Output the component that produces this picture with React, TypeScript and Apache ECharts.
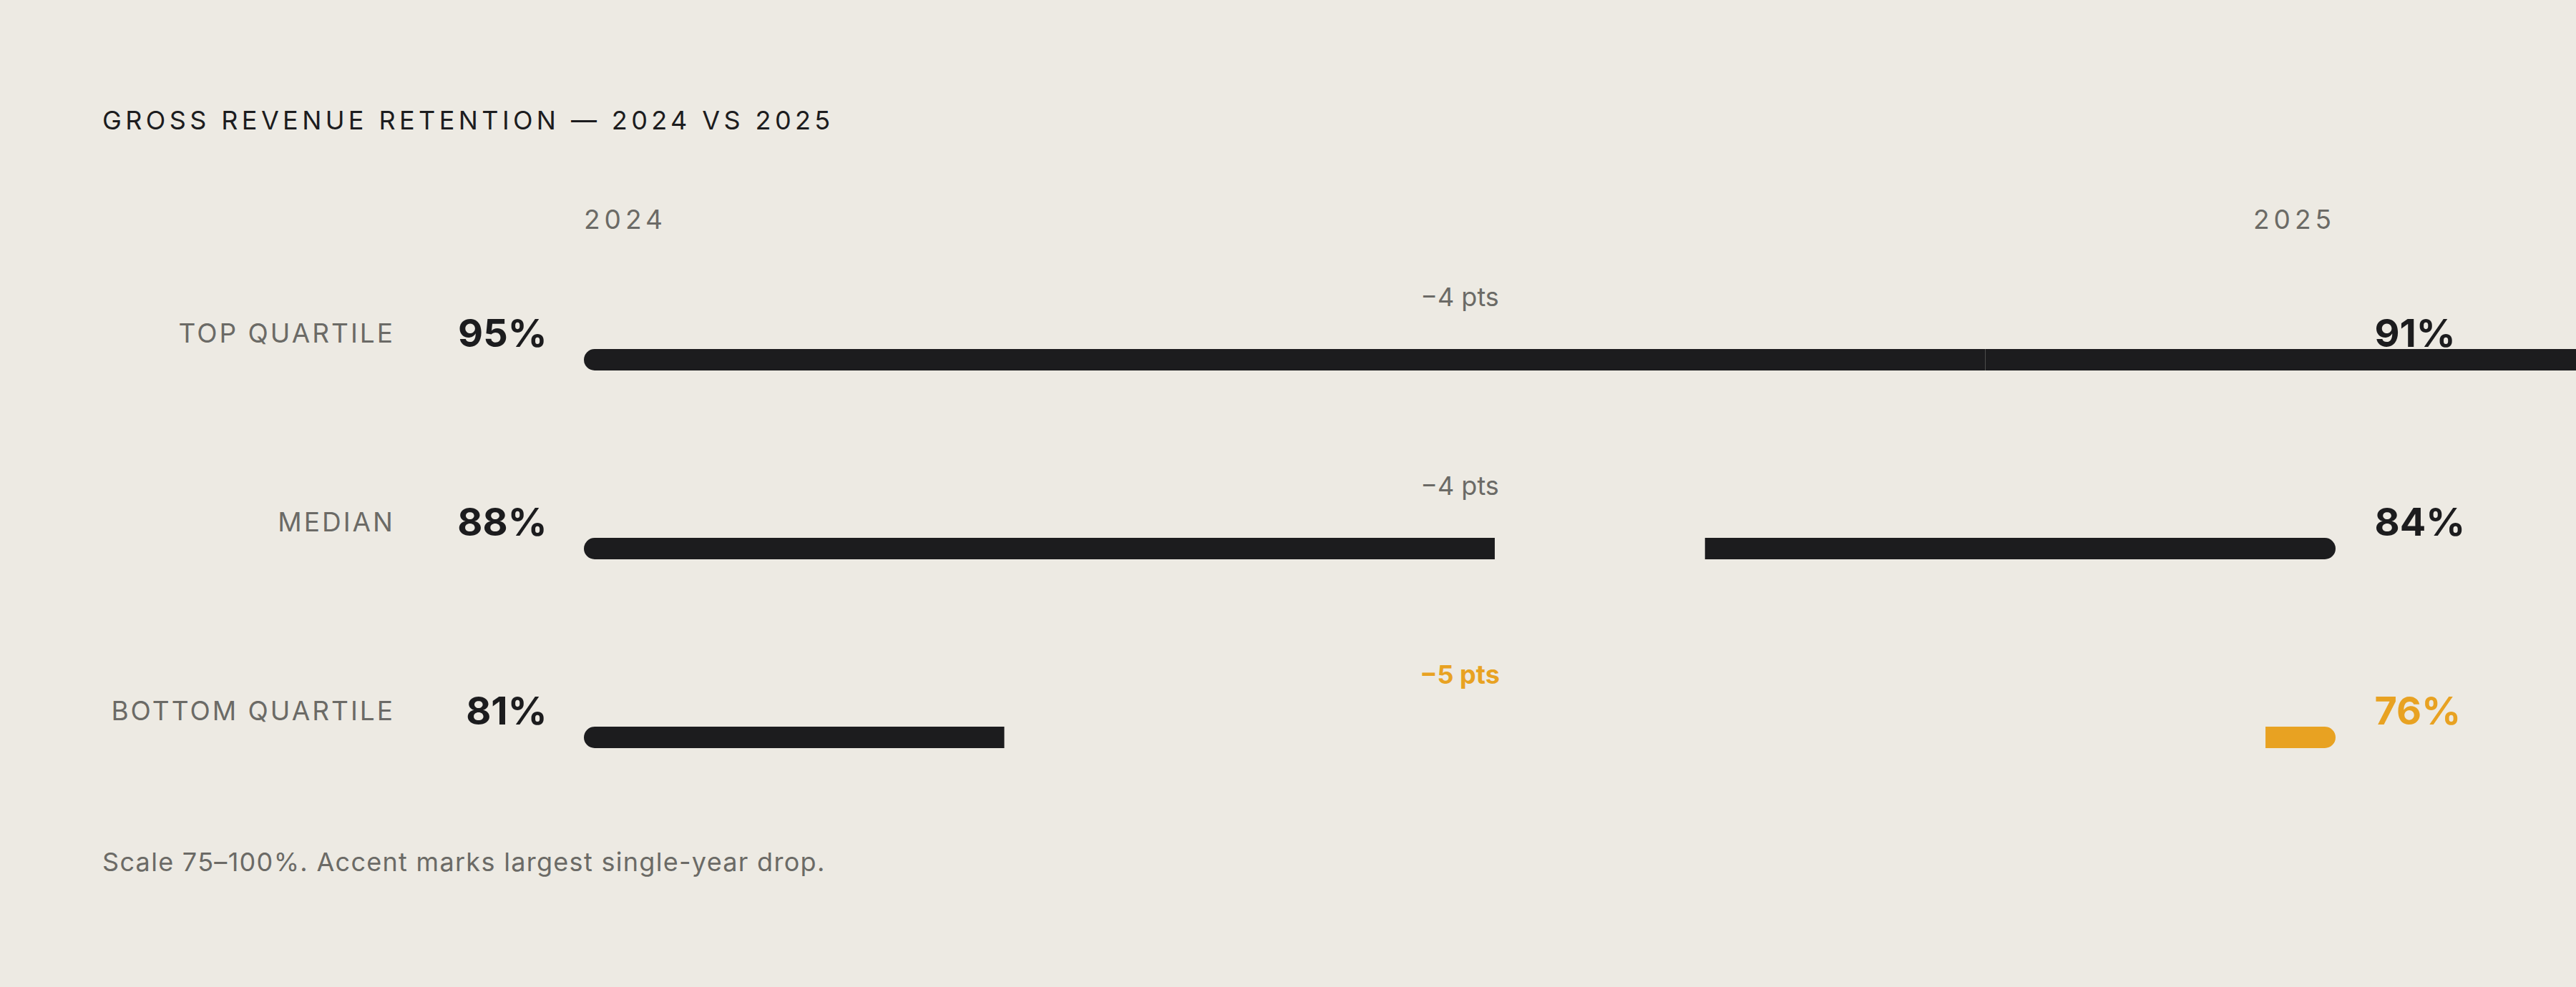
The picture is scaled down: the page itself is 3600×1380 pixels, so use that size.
import { useEffect, useRef } from 'react';
import * as echarts from 'echarts';

// data
const categories = ['TOP QUARTILE', 'MEDIAN', 'BOTTOM QUARTILE'];
const values2024 = [95, 88, 81];
const values2025 = [91, 84, 76];
const yearLabels = ['2024', '2025'];
const scaleMin = 75;
const scaleMax = 100;

const TITLE = 'GROSS REVENUE RETENTION \u2014 2024 VS 2025';
const NOTE = 'Scale 75\u2013100%. Accent marks largest single-year drop.';

const INK = '#1c1c1e';
const MUTED = '#6b6a66';
const ACCENT = '#e8a222';
const PAPER = '#edeae3';
const FONT = "Inter, 'Noto Sans', sans-serif";

const span = scaleMax - scaleMin;
const leftLen = values2024.map((v) => v - scaleMin);
const rightLen = values2025.map((v) => v - scaleMin);
// the 2025 bar follows the 2024 bar when they don't fit in the track
const gapLen = leftLen.map((l, i) => Math.max(0, span - l - rightLen[i]));
const drops = values2024.map((v, i) => v - values2025[i]);
const accentIdx = drops.indexOf(Math.max(...drops));

// echarts has no letter-spacing, so set it on the svg text nodes
const spacing = (text: string | null) => {
    if (text === TITLE) return 5.4;
    if (text === NOTE) return 1.3;
    if (text && yearLabels.includes(text)) return 6;
    if (text && categories.includes(text)) return 3;
    return 0;
};

export default function App() {
    const chartRef = useRef<HTMLDivElement>(null);

    useEffect(() => {
        const el = chartRef.current!;
        const myChart = echarts.init(el, null, { renderer: 'svg' });

        const applySpacing = () => {
            el.querySelectorAll('text').forEach((t) => {
                const s = spacing(t.textContent);
                if (s) t.style.letterSpacing = s + 'px';
            });
        };

        const labelPoint = { color: 'transparent', opacity: 1 };

        myChart.setOption({
            animation: false,
            backgroundColor: PAPER,
            textStyle: { fontFamily: FONT },
            title: [
                {
                    text: TITLE,
                    left: 143,
                    top: 150,
                    padding: 0,
                    textStyle: { fontFamily: FONT, fontSize: 36, fontWeight: 400, color: INK },
                },
                {
                    text: NOTE,
                    left: 143,
                    top: 1187,
                    padding: 0,
                    textStyle: { fontFamily: FONT, fontSize: 36, fontWeight: 400, color: MUTED },
                },
            ],
            grid: { left: 816, right: 336, top: 371, height: 792 },
            xAxis: {
                type: 'value',
                position: 'top',
                min: 0,
                max: span,
                interval: span,
                axisLine: { show: false },
                axisTick: { show: false },
                splitLine: { show: false },
                axisLabel: {
                    margin: 46,
                    fontSize: 37,
                    color: MUTED,
                    fontFamily: FONT,
                    alignMinLabel: 'left',
                    alignMaxLabel: 'right',
                    formatter: (v: number) => (v === 0 ? yearLabels[0] : yearLabels[1]),
                },
            },
            yAxis: {
                type: 'category',
                data: categories,
                inverse: true,
                axisLine: { show: false },
                axisTick: { show: false },
                axisLabel: {
                    margin: 264,
                    fontSize: 37,
                    color: MUTED,
                    fontFamily: FONT,
                    verticalAlign: 'bottom',
                    lineHeight: 75,
                },
            },
            series: [
                {
                    type: 'bar',
                    stack: 'track',
                    barWidth: 30,
                    silent: true,
                    data: leftLen,
                    itemStyle: { color: INK, borderRadius: [15, 0, 0, 15] },
                },
                {
                    type: 'bar',
                    stack: 'track',
                    silent: true,
                    data: gapLen,
                    itemStyle: { color: 'transparent' },
                },
                {
                    type: 'bar',
                    stack: 'track',
                    silent: true,
                    clip: false,
                    data: rightLen.map((v, i) => ({
                        value: v,
                        itemStyle: { color: i === accentIdx ? ACCENT : INK },
                    })),
                    itemStyle: { borderRadius: [0, 15, 15, 0] },
                },
                {
                    // 2024 values
                    type: 'scatter',
                    silent: true,
                    clip: false,
                    symbolSize: 1,
                    itemStyle: labelPoint,
                    data: categories.map((_, i) => [0, i]),
                    label: {
                        show: true,
                        position: 'left',
                        distance: 51,
                        offset: [0, -38],
                        fontFamily: FONT,
                        fontSize: 54,
                        fontWeight: 700,
                        color: INK,
                        formatter: (p: any) => values2024[p.dataIndex] + '%',
                    },
                },
                {
                    // 2025 values
                    type: 'scatter',
                    silent: true,
                    clip: false,
                    symbolSize: 1,
                    itemStyle: labelPoint,
                    data: categories.map((_, i) => ({
                        value: [span, i],
                        label: { color: i === accentIdx ? ACCENT : INK },
                    })),
                    label: {
                        show: true,
                        position: 'right',
                        distance: 54,
                        offset: [0, -38],
                        fontFamily: FONT,
                        fontSize: 54,
                        fontWeight: 700,
                        formatter: (p: any) => values2025[p.dataIndex] + '%',
                    },
                },
                {
                    // change between years
                    type: 'scatter',
                    silent: true,
                    clip: false,
                    symbolSize: 1,
                    itemStyle: labelPoint,
                    data: categories.map((_, i) => ({
                        value: [span / 2, i],
                        label:
                            i === accentIdx
                                ? { color: ACCENT, fontWeight: 700 }
                                : { color: MUTED, fontWeight: 400 },
                    })),
                    label: {
                        show: true,
                        position: 'inside',
                        offset: [0, -88],
                        fontFamily: FONT,
                        fontSize: 36,
                        formatter: (p: any) => '\u2212' + drops[p.dataIndex] + ' pts',
                    },
                },
            ],
        });

        applySpacing();
        myChart.on('finished', applySpacing);

        return () => {
            myChart.dispose();
        };
    }, []);

    return (
        <div
            ref={chartRef}
            style={{ position: 'fixed', left: 0, top: 0, width: 3600, height: 1380, background: PAPER }}
        />
    );
}
